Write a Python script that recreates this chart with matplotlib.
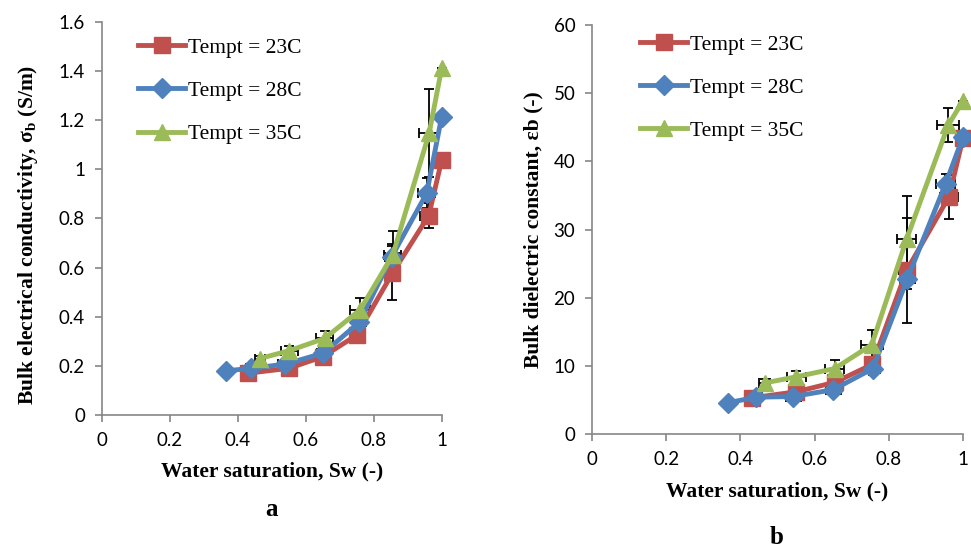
import matplotlib
matplotlib.use("Agg")
import matplotlib.pyplot as plt
from matplotlib.lines import Line2D

plt.rcParams['mathtext.fontset'] = 'custom'
plt.rcParams['mathtext.rm'] = 'Liberation Serif'
plt.rcParams['mathtext.bf'] = 'Liberation Serif:bold'

# ---------------- data: panel a (bulk electrical conductivity) ----------------
labels = ["Tempt = 23C", "Tempt = 28C", "Tempt = 35C"]

sw_a_23 = [0.43, 0.55, 0.65, 0.75, 0.855, 0.962, 1.0]
sig_23 = [0.17, 0.19, 0.237, 0.325, 0.577, 0.812, 1.038]
sig_23_yerr = [0.01, 0.01, 0.015, 0.03, 0.11, 0.05, 0.0]
sig_23_xerr = [0.015, 0.02, 0.02, 0.02, 0.02, 0.025, 0.0]

sw_a_28 = [0.367, 0.44, 0.54, 0.652, 0.758, 0.853, 0.956, 1.0]
sig_28 = [0.18, 0.19, 0.207, 0.252, 0.378, 0.645, 0.903, 1.215]
sig_28_yerr = [0.0, 0.01, 0.015, 0.02, 0.03, 0.05, 0.06, 0.0]
sig_28_xerr = [0.0, 0.015, 0.02, 0.02, 0.02, 0.02, 0.025, 0.0]

sw_a_35 = [0.465, 0.552, 0.656, 0.76, 0.856, 0.963, 1.0]
sig_35 = [0.23, 0.262, 0.312, 0.428, 0.651, 1.147, 1.412]
sig_35_yerr = [0.01, 0.02, 0.03, 0.05, 0.1, 0.18, 0.0]
sig_35_xerr = [0.015, 0.025, 0.025, 0.03, 0.025, 0.03, 0.0]

# ---------------- data: panel b (bulk dielectric constant) ----------------
sw_b_23 = [0.43, 0.551, 0.655, 0.755, 0.848, 0.962, 1.0]
eps_23 = [5.3, 6.2, 7.6, 10.2, 24.0, 34.8, 43.4]
eps_23_yerr = [0.4, 0.6, 0.8, 1.0, 7.7, 3.2, 0.0]
eps_23_xerr = [0.015, 0.02, 0.02, 0.02, 0.02, 0.025, 0.0]

sw_b_28 = [0.367, 0.443, 0.542, 0.65, 0.757, 0.85, 0.953, 1.0]
eps_28 = [4.6, 5.4, 5.5, 6.5, 9.6, 22.8, 36.7, 43.6]
eps_28_yerr = [0.0, 0.3, 0.5, 0.6, 1.0, 1.5, 1.5, 0.0]
eps_28_xerr = [0.0, 0.015, 0.02, 0.02, 0.02, 0.02, 0.025, 0.0]

sw_b_35 = [0.466, 0.551, 0.654, 0.754, 0.848, 0.96, 1.0]
eps_35 = [7.5, 8.4, 9.6, 13.1, 28.6, 45.3, 48.9]
eps_35_yerr = [0.5, 0.8, 1.2, 2.2, 6.3, 2.5, 0.0]
eps_35_xerr = [0.015, 0.025, 0.025, 0.03, 0.025, 0.03, 0.0]

xticks = [0, 0.2, 0.4, 0.6, 0.8, 1]
xticklabels = ["0", "0.2", "0.4", "0.6", "0.8", "1"]
yticks_a = [0, 0.2, 0.4, 0.6, 0.8, 1.0, 1.2, 1.4, 1.6]
yticklabels_a = ["0", "0.2", "0.4", "0.6", "0.8", "1", "1.2", "1.4", "1.6"]
yticks_b = [0, 10, 20, 30, 40, 50, 60]
yticklabels_b = ["0", "10", "20", "30", "40", "50", "60"]

colors = ["#C0504D", "#4F81BD", "#9BBB59"]
markers = ["s", "D", "^"]
msizes = [11, 10, 12]
gray = "#868686"
serif = "Liberation Serif"
sans = "Lato"
LW = 3.5

fig = plt.figure(figsize=(9.71, 5.48), dpi=100)
ax1 = fig.add_axes([0.1047, 0.2427, 0.3502, 0.7172])
ax2 = fig.add_axes([0.6097, 0.208, 0.3821, 0.7464])


def panel(ax, series, ylim, yticks, yticklabels):
    for i, (x, y, xe, ye) in enumerate(series):
        ax.errorbar(x, y, yerr=ye, xerr=xe, fmt='none', ecolor='black',
                    elinewidth=1.3, capsize=3.5, capthick=1.3, zorder=2)
        ax.plot(x, y, color=colors[i], lw=LW, marker=markers[i],
                ms=msizes[i], mec=colors[i], mfc=colors[i], zorder=3 + i * 0.1,
                solid_joinstyle='round', solid_capstyle='round')
    ax.set_xlim(0, 1)
    ax.set_ylim(*ylim)
    ax.set_xticks(xticks)
    ax.set_xticklabels(xticklabels, fontfamily=sans, fontsize=13.5)
    ax.set_yticks(yticks)
    ax.set_yticklabels(yticklabels, fontfamily=sans, fontsize=13.5)
    for s in ['top', 'right']:
        ax.spines[s].set_visible(False)
    for s in ['left', 'bottom']:
        ax.spines[s].set_color(gray)
        ax.spines[s].set_linewidth(1.2)
    ax.tick_params(direction='out', length=5, width=1.2, color=gray,
                   labelcolor='black', pad=7)
    for art in ax.get_children():
        try:
            art.set_clip_on(False)
        except Exception:
            pass


panel(ax1, [(sw_a_23, sig_23, sig_23_xerr, sig_23_yerr),
            (sw_a_28, sig_28, sig_28_xerr, sig_28_yerr),
            (sw_a_35, sig_35, sig_35_xerr, sig_35_yerr)],
      (0, 1.6), yticks_a, yticklabels_a)
panel(ax2, [(sw_b_23, eps_23, eps_23_xerr, eps_23_yerr),
            (sw_b_28, eps_28, eps_28_xerr, eps_28_yerr),
            (sw_b_35, eps_35, eps_35_xerr, eps_35_yerr)],
      (0, 60), yticks_b, yticklabels_b)

handles = [Line2D([], [], color=colors[i], lw=LW, marker=markers[i],
                  ms=msizes[i], mec=colors[i], mfc=colors[i]) for i in range(3)]
for anchor in [(0.142, 0.931), (0.659, 0.937)]:
    fig.legend(handles, labels, loc='upper left', bbox_to_anchor=anchor,
               frameon=False, prop={'family': serif, 'size': 15.5},
               handlelength=2.2, handletextpad=0.15, labelspacing=1.07,
               borderaxespad=0, borderpad=0)

lab = dict(fontfamily=serif, fontweight='bold', fontsize=15.5)
ax1.set_xlabel("Water saturation, Sw (-)", labelpad=9, **lab)
ax2.set_xlabel("Water saturation, Sw (-)", labelpad=10, **lab)
ylab = dict(fontfamily=serif, fontweight='bold', fontsize=15.5)
ax1.set_ylabel(r"Bulk electrical conductivity, σ$_{\mathbf{b}}$ (S/m)", **ylab)
ax2.set_ylabel("Bulk dielectric constant, εb (-)", **ylab)
ax1.yaxis.set_label_coords(-0.18, 0.458)
ax2.yaxis.set_label_coords(-0.13, 0.5)

fig.text(271 / 971, 1 - 510 / 548, "a", ha='center', va='center',
         fontfamily=serif, fontweight='bold', fontsize=18)
fig.text(777 / 971, 1 - 537 / 548, "b", ha='center', va='center',
         fontfamily=serif, fontweight='bold', fontsize=18)

fig.savefig("out.png", dpi=100)
